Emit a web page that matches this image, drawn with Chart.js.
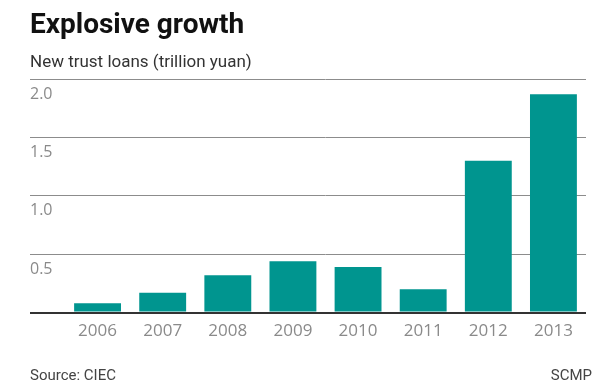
<!DOCTYPE html>
<html>
<head>
<meta charset="utf-8">
<script src="https://cdn.jsdelivr.net/npm/chart.js@4.4.1/dist/chart.umd.min.js"></script>
<style>
  html, body { margin: 0; padding: 0; background: #fff; }
  #wrap { position: relative; width: 600px; height: 390px; }
  .foot {
    position: absolute; top: 366px;
    font-family: 'Roboto', sans-serif;
    font-size: 15px; color: #444;
  }
</style>
</head>
<body>
<div id="wrap">
  <canvas id="chart" width="600" height="390"></canvas>
  <div class="foot" style="left:30px">Source: CIEC</div>
  <div class="foot" style="right:8px">SCMP</div>
</div>
<script>
// data
const years = ['2006', '2007', '2008', '2009', '2010', '2011', '2012', '2013'];
const newTrustLoans = [0.08, 0.17, 0.32, 0.44, 0.39, 0.2, 1.3, 1.87];
const yTicks = [0, 0.5, 1.0, 1.5, 2.0];

const TEAL = '#00958f';

const ctx = document.getElementById('chart');

new Chart(ctx, {
  type: 'bar',
  data: {
    labels: years,
    datasets: [{
      label: 'New trust loans',
      data: newTrustLoans,
      backgroundColor: TEAL,
      borderWidth: 0,
      categoryPercentage: 1,
      barPercentage: 0.72
    }]
  },
  options: {
    responsive: false,
    animation: false,
    layout: { padding: { left: 30, right: 14, top: 0, bottom: 41 } },
    plugins: {
      legend: { display: false },
      tooltip: { enabled: false },
      title: {
        display: true,
        text: 'Explosive growth',
        align: 'start',
        color: '#111',
        font: { family: "'Roboto', sans-serif", size: 28, weight: 'bold' },
        padding: { top: 9, bottom: 10 }
      },
      subtitle: {
        display: true,
        text: 'New trust loans (trillion yuan)',
        align: 'start',
        color: '#333',
        font: { family: "'Roboto', sans-serif", size: 17 },
        padding: { top: 0, bottom: 6 }
      }
    },
    scales: {
      x: {
        grid: { display: false, drawTicks: false },
        border: { display: false },
        ticks: {
          color: '#8a8a8a',
          padding: 8,
          font: { family: "'Open Sans', sans-serif", size: 17 }
        }
      },
      y: {
        min: 0,
        max: 2,
        afterFit: (scale) => { scale.width = 35; },
        afterBuildTicks: (scale) => {
          scale.ticks = yTicks.map(v => ({ value: v }));
        },
        border: { display: false },
        grid: {
          drawTicks: true,
          tickLength: 35,
          color: (c) => c.tick && c.tick.value === 0 ? '#333' : '#8c8c8c',
          lineWidth: (c) => c.tick && c.tick.value === 0 ? 2 : 1
        },
        ticks: {
          crossAlign: 'far',
          labelOffset: 15,
          padding: 0,
          color: '#8a8a8a',
          font: { family: "'Open Sans', sans-serif", size: 16 },
          callback: (v) => v === 0 ? '' : Number(v).toFixed(1)
        }
      }
    }
  }
});
</script>
</body>
</html>
